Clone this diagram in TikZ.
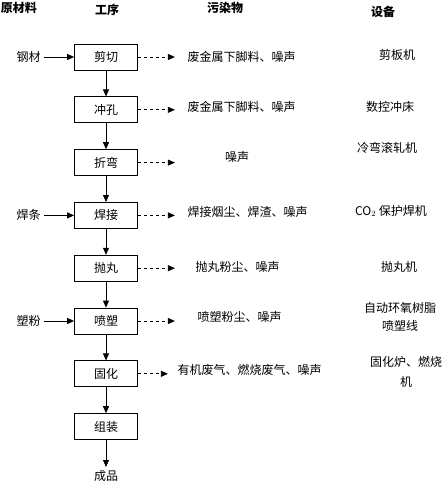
\documentclass[tikz,border=0pt]{standalone}
\usepackage{fontspec}
\setmainfont{Noto Sans CJK SC}
\usepackage{tikz}
\usetikzlibrary{arrows.meta, positioning, calc}

\begin{document}
\begin{tikzpicture}[x=1pt, y=1pt,
  node distance=26pt, every node/.style={font=\fontsize{12}{15}\selectfont},
  proc/.style={draw, line width=0.8pt, minimum width=63pt, minimum height=26pt},
  head/.style={font=\fontsize{12}{15}\selectfont\bfseries},
  flow/.style={-{Triangle[length=7pt,width=6pt]}, line width=0.8pt},
  waste/.style={flow, dash pattern=on 3.5pt off 2.5pt}]
  \useasboundingbox (0,0) rectangle (443,-482);
  % column heads
  \node[head] (hIn)   at (19,-8)  {原材料};
  \node[head] (hProc) at (107,-10) {工序};
  \node[head] (hOut)  at (225,-8)  {污染物};
  \node[head] (hEq)   at (383,-12) {设备};
  % process chain
  \node[proc] (cut)   at (106,-57) {剪切};
  \node[proc] (punch) [below=of cut]   {冲孔};
  \node[proc] (bend)  [below=of punch] {折弯};
  \node[proc] (weld)  [below=of bend]  {焊接};
  \node[proc] (blast) [below=of weld]  {抛丸};
  \node[proc] (spray) [below=of blast] {喷塑};
  \node[proc] (cure)  [below=of spray] {固化};
  \node[proc] (assy)  [below=of cure]  {组装};
  \node (prod) [below=27pt of assy] {成品};
  \draw[flow] (cut)   -- (punch);
  \draw[flow] (punch) -- (bend);
  \draw[flow] (bend)  -- (weld);
  \draw[flow] (weld)  -- (blast);
  \draw[flow] (blast) -- (spray);
  \draw[flow] (spray) -- (cure);
  \draw[flow] (cure)  -- (assy);
  \draw[flow] (assy)  -- (prod);
  % raw materials
  \node (steel) [left=30pt of cut]   {钢材};
  \node (rod)   [left=30pt of weld]  {焊条};
  \node (powd)  [left=30pt of spray] {塑粉};
  \draw[flow] (steel) -- (cut);
  \draw[flow] (rod)   -- (weld);
  \draw[flow] (powd)  -- (spray);
  % pollutants
  \coordinate[right=37pt of cut.east]   (cutW);
  \coordinate[right=37pt of punch.east] (punchW);
  \coordinate[right=37pt of bend.east]  (bendW);
  \coordinate[right=37pt of weld.east]  (weldW);
  \coordinate[right=37pt of blast.east] (blastW);
  \coordinate[right=37pt of spray.east] (sprayW);
  \coordinate[right=30pt of cure.east]  (cureW);
  \draw[waste] (cut)   -- (cutW);
  \draw[waste] (punch) -- (punchW);
  \draw[waste] (bend)  -- (bendW);
  \draw[waste] (weld)  -- (weldW);
  \draw[waste] (blast) -- (blastW);
  \draw[waste] (spray) -- (sprayW);
  \draw[waste] (cure)  -- (cureW);
  \node[anchor=west] (w1) at (184,-57)  {废金属下脚料、噪声};
  \node[anchor=west] (w2) at (184,-107) {废金属下脚料、噪声};
  \node (w3) at (237,-157) {噪声};
  \node[anchor=west] (w4) at (184,-212) {焊接烟尘、焊渣、噪声};
  \node[anchor=west] (w5) at (192,-267) {抛丸粉尘、噪声};
  \node[anchor=west] (w6) at (194,-317) {喷塑粉尘、噪声};
  \node[anchor=west] (w7) at (174,-370) {有机废气、燃烧废气、噪声};
  % equipment
  \node (e1) at (397,-55)  {剪板机};
  \node (e2) at (390,-107) {数控冲床};
  \node (e3) at (387,-148) {冷弯滚轧机};
  \node (e4) at (391,-211) {CO$_2$ 保护焊机};
  \node (e5) at (399,-267) {抛丸机};
  \node[align=center, font=\fontsize{12}{18}\selectfont] (e6) at (400,-317) {自动环氧树脂\\喷塑线};
  \node[align=center, font=\fontsize{12}{20}\selectfont] (e7) at (406,-372) {固化炉、燃烧\\机};
\end{tikzpicture}
\end{document}
